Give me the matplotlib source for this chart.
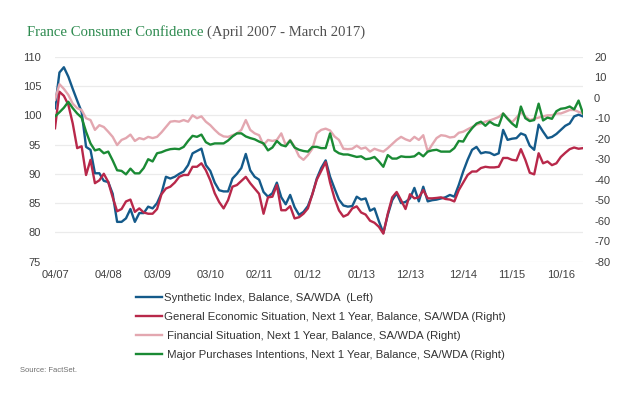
import matplotlib
matplotlib.use('Agg')
import matplotlib.pyplot as plt

# monthly, April 2007 .. March 2017 (120 points)
tick_index = [0, 12, 23, 35, 46, 57, 69, 80, 92, 103, 114]
tick_labels = ['04/07', '04/08', '03/09', '03/10', '02/11', '01/12',
               '01/13', '12/13', '12/14', '11/15', '10/16']

# Synthetic index (left axis)
synthetic = [
    101.2, 107.3, 108.2, 106.6, 104.5, 102.5, 100.6, 94.6, 94.1, 90.1,
    90.1, 88.8, 88.6, 86.6, 81.8, 81.8, 82.4, 84.0, 81.8, 83.3,
    83.3, 84.4, 84.1, 85.0, 86.7, 89.5, 89.2, 89.5, 90.0, 90.4,
    91.5, 93.5, 93.9, 94.3, 91.5, 90.5, 88.5, 87.2, 87.0, 87.0,
    89.2, 90.0, 91.0, 93.4, 90.6, 89.5, 89.0, 86.9, 86.1, 86.7,
    88.5, 86.0, 84.8, 86.4, 84.3, 83.0, 83.5, 84.5, 86.5, 89.2,
    91.0, 92.3, 89.5, 87.5, 85.6, 84.6, 84.4, 84.5, 86.1, 85.6,
    85.8, 83.7, 84.1, 81.9, 79.9, 83.0, 85.5, 86.7, 85.0, 85.2,
    85.8, 87.6, 85.3, 87.8, 85.3, 85.5, 85.6, 85.8, 86.0, 86.4,
    86.1, 88.1, 90.4, 92.4, 94.1, 94.6, 93.5, 93.7, 93.6, 93.2,
    93.5, 97.5, 95.8, 96.0, 96.1, 96.9, 96.6, 94.8, 94.1, 98.4,
    97.2, 96.1, 96.3, 96.8, 97.5, 98.2, 98.6, 99.8, 100.1, 99.8,
]

# right axis series
general_econ = [
    -14.9, 2.9, 0.9, -3.4, -12.6, -24.6, -23.7, -37.7, -30.3, -41.7,
    -40.3, -37.1, -41.1, -48.6, -55.4, -54.3, -50.6, -49.7, -55.7, -54.0,
    -56.0, -56.6, -56.6, -54.3, -47.1, -44.3, -43.4, -41.4, -38.6, -37.7,
    -37.7, -33.7, -33.7, -32.0, -35.4, -40.3, -46.6, -50.9, -54.0, -50.0,
    -43.4, -42.6, -40.6, -38.6, -41.7, -44.3, -46.9, -56.6, -48.6, -48.3,
    -42.6, -54.9, -54.9, -52.9, -58.9, -58.3, -56.6, -54.0, -47.1, -40.0,
    -35.7, -31.4, -41.4, -49.1, -55.0, -58.0, -57.0, -54.0, -53.0, -56.0,
    -57.0, -60.0, -61.0, -63.0, -66.3, -56.6, -48.6, -46.0, -50.0, -54.3,
    -47.1, -49.1, -48.6, -45.1, -49.1, -49.1, -48.9, -48.6, -49.4, -49.7,
    -50.6, -45.1, -41.4, -37.7, -36.0, -36.0, -34.3, -33.7, -34.0, -34.0,
    -33.7, -29.4, -29.4, -30.3, -30.6, -25.1, -30.3, -36.6, -37.4, -27.1,
    -32.0, -31.1, -32.9, -32.0, -28.9, -26.9, -25.1, -24.3, -24.9, -24.6,
]

financial = [
    -1.1, 6.6, 4.3, 1.4, -2.9, -5.1, -6.0, -10.0, -10.9, -15.7,
    -13.4, -14.3, -16.6, -19.1, -23.1, -20.6, -19.7, -18.0, -21.1, -19.7,
    -20.3, -19.1, -19.7, -19.1, -16.9, -14.3, -11.7, -11.4, -11.7, -10.9,
    -11.7, -8.6, -10.0, -9.1, -11.7, -13.4, -15.7, -17.7, -18.9, -19.1,
    -18.3, -17.4, -15.7, -10.9, -15.7, -17.4, -18.3, -23.1, -20.6, -21.1,
    -20.6, -17.4, -23.1, -20.6, -24.0, -28.6, -30.3, -28.0, -24.9, -17.4,
    -15.7, -15.1, -16.0, -18.9, -20.6, -24.9, -25.1, -24.9, -23.4, -24.9,
    -24.3, -26.3, -24.9, -25.7, -26.3, -24.6, -22.6, -20.6, -19.1, -20.3,
    -21.1, -19.1, -20.6, -18.3, -26.3, -22.9, -19.7, -18.3, -18.6, -19.4,
    -19.1, -17.1, -16.6, -15.4, -14.3, -13.1, -12.6, -11.7, -11.1, -10.3,
    -9.4, -7.7, -10.0, -12.0, -9.7, -7.1, -9.1, -10.9, -10.3, -9.7,
    -9.1, -8.6, -8.6, -7.7, -7.7, -6.9, -6.0, -6.0, -6.9, -7.7,
]

major_purchases = [
    -9.1, -7.1, -4.9, -2.0, -5.1, -7.7, -9.7, -16.6, -22.3, -25.7,
    -25.1, -27.1, -26.3, -30.6, -35.4, -35.7, -37.4, -34.6, -36.9, -36.9,
    -34.3, -30.0, -31.1, -27.1, -26.6, -25.7, -25.1, -24.9, -25.1, -24.0,
    -21.1, -18.6, -19.1, -18.0, -21.7, -22.9, -22.3, -22.3, -22.3, -20.9,
    -18.9, -17.4, -17.4, -18.9, -19.7, -20.3, -21.4, -22.3, -25.7, -24.3,
    -21.1, -23.1, -23.7, -20.9, -24.3, -25.4, -26.0, -26.3, -24.0, -24.0,
    -24.6, -24.6, -17.4, -25.7, -27.1, -27.7, -27.7, -28.3, -28.9, -28.6,
    -30.0, -29.7, -28.9, -31.1, -33.7, -28.0, -29.7, -29.7, -28.6, -28.9,
    -28.9, -28.6, -26.9, -28.6, -26.3, -25.7, -25.4, -26.3, -26.3, -26.3,
    -24.6, -21.1, -21.4, -17.7, -14.9, -12.6, -11.7, -13.7, -11.7, -13.1,
    -13.7, -7.7, -10.3, -12.6, -14.3, -4.3, -10.0, -11.4, -10.9, -2.9,
    -11.1, -9.7, -10.3, -6.6, -5.4, -5.1, -4.3, -5.7, -1.4, -7.7,
]

labels = [
    'Synthetic Index, Balance, SA/WDA  (Left)',
    'General Economic Situation, Next 1 Year, Balance, SA/WDA (Right)',
    ' Financial Situation, Next 1 Year, Balance, SA/WDA (Right)',
    ' Major Purchases Intentions, Next 1 Year, Balance, SA/WDA (Right)',
]
colors = ['#145a8a', '#b8284a', '#e3a7b0', '#1a8a34']

plt.rcParams['font.family'] = ['Liberation Sans', 'DejaVu Sans']
plt.rcParams['axes.unicode_minus'] = False

fig = plt.figure(figsize=(6.4, 3.95), dpi=100)
ax = fig.add_axes([55 / 640, 1 - 261.7 / 395, 528 / 640, 205 / 395])
ax2 = ax.twinx()

x = list(range(len(synthetic)))
h1, = ax.plot(x, synthetic, color=colors[0], lw=1.7, label=labels[0])
h2, = ax2.plot(x, general_econ, color=colors[1], lw=1.7, label=labels[1])
h3, = ax2.plot(x, financial, color=colors[2], lw=1.7, label=labels[2])
h4, = ax2.plot(x, major_purchases, color=colors[3], lw=1.7, label=labels[3])

ax.set_xlim(0, len(x) - 1)
ax.set_ylim(75, 110)
ax.set_yticks(range(75, 111, 5))
ax2.set_ylim(-80, 20)
ax2.set_yticks(range(-80, 21, 10))
ax.set_xticks(tick_index)
ax.set_xticklabels(tick_labels)

ax.grid(axis='y', color='#ebebeb', lw=0.9)
ax.set_axisbelow(True)
for a in (ax, ax2):
    for s in a.spines.values():
        s.set_visible(False)
    a.tick_params(length=0, labelsize=8, colors='#404040')
ax.tick_params(axis='y', pad=10)
ax2.tick_params(axis='y', pad=8)
ax.tick_params(axis='x', pad=6)

fig.legend(handles=[h1, h2, h3, h4], loc='upper left',
           bbox_to_anchor=(136 / 640, 1 - 293 / 395), frameon=False,
           fontsize=8.2, handlelength=2.3, handletextpad=0.15,
           labelspacing=0.8, borderpad=0, borderaxespad=0,
           labelcolor='#333333')

fig.text(20 / 640, 1 - 371 / 395, 'Source: FactSet.', fontsize=5.5,
         color='#707070', va='center')

# two-colour title
t1 = fig.text(27 / 640, 1 - 32 / 395, 'France Consumer Confidence',
              family='Liberation Serif', fontsize=10.6, color='#2e8b50',
              va='center')
fig.canvas.draw()
bb = t1.get_window_extent()
fig.text(bb.x1 / fig.bbox.width + 3 / 640, 1 - 32 / 395,
         '(April 2007 - March 2017)', family='Liberation Serif',
         fontsize=10.6, color='#505050', va='center')

fig.savefig('out.png', dpi=100)
